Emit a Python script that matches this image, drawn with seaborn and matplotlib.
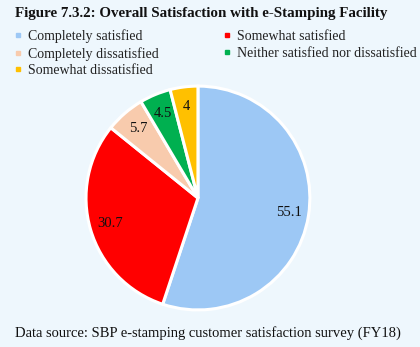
import matplotlib
matplotlib.use("Agg")
import matplotlib.pyplot as plt
from matplotlib.lines import Line2D
import seaborn as sns

categories = ["Completely satisfied", "Somewhat satisfied", "Completely dissatisfied",
              "Neither satisfied nor dissatisfied", "Somewhat dissatisfied"]
values = [55.1, 30.7, 5.7, 4.5, 4.0]
labels = ["55.1", "30.7", "5.7", "4.5", "4"]
colors = sns.color_palette(["#9DC8F5", "#FF0000", "#F8CBAD", "#00B050", "#FFC000"])

sns.set_theme(style="white")
plt.rcParams["font.family"] = ["Liberation Serif", "DejaVu Serif"]

bg = "#EEF7FD"
fig = plt.figure(figsize=(4.2, 3.47), dpi=100, facecolor=bg)

ax = fig.add_axes([0.2048, 0.1066, 0.533, 0.6455])
ax.set_facecolor(bg)
wedges, texts = ax.pie(values, colors=colors, startangle=90, counterclock=False,
                       labels=labels, labeldistance=0.82,
                       wedgeprops=dict(edgecolor="white", linewidth=2.2),
                       textprops=dict(fontsize=10.5, color="#111111"))
ax.set_xlim(-1.0, 1.0)
ax.set_ylim(-1.0, 1.0)
ax.set_aspect("equal")
for t in texts:
    t.set_ha("center")
    t.set_va("center")

fig.text(0.036, 0.9625, "Figure 7.3.2: Overall Satisfaction with e-Stamping Facility",
         fontsize=10.8, fontweight="bold", va="center", ha="left", color="#111111")

handles = [Line2D([0], [0], marker="s", linestyle="none", markersize=3,
                  markerfacecolor=c, markeredgecolor=c) for c in colors]
order = [0, 2, 4, 1, 3]
leg = fig.legend([handles[i] for i in order], [categories[i] for i in order],
                 loc="upper left", bbox_to_anchor=(0.033, 0.9156), ncol=2,
                 frameon=False, fontsize=10, handlelength=0.6, handletextpad=0.42,
                 columnspacing=4.6, labelspacing=0.27, borderaxespad=0, borderpad=0)
for t in leg.get_texts():
    t.set_color("#222222")

fig.text(0.036, 0.04, "Data source: SBP e-stamping customer satisfaction survey (FY18)",
         fontsize=10.5, va="center", ha="left", color="#111111")

fig.savefig("out.png", dpi=100, facecolor=bg)
